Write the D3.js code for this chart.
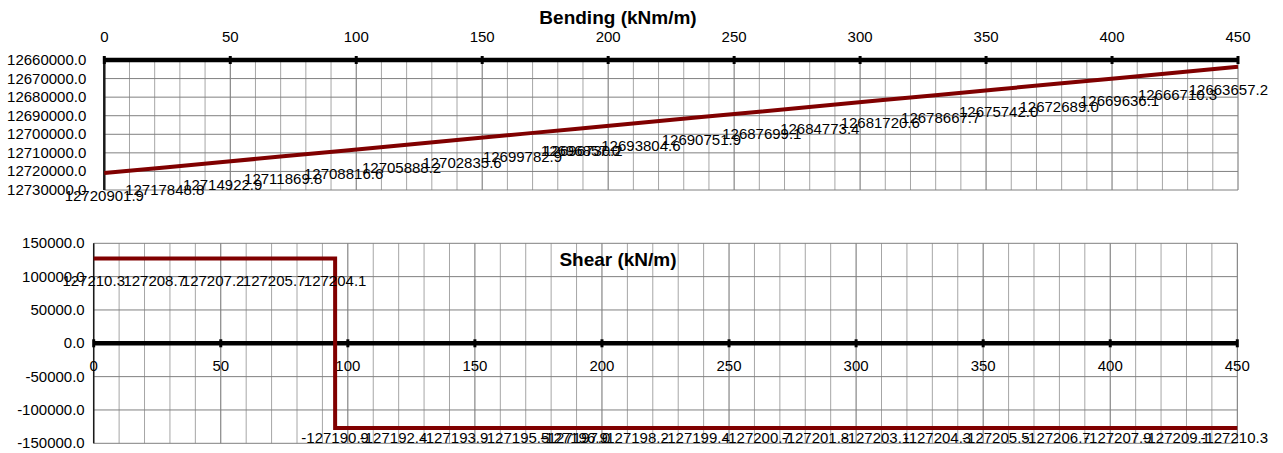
<!DOCTYPE html>
<html>
<head>
<meta charset="utf-8">
<script src="https://cdn.jsdelivr.net/npm/d3@7"></script>
<style>
  body { margin: 0; background: #fff; }
  text { font-family: "Liberation Sans", Arial, sans-serif; fill: #000; }
</style>
</head>
<body>
<div id="chart"></div>
<script>
// Positions along the beam (x) and results
const bendX = [0, 24, 47, 71, 95, 118, 142, 166, 189, 190, 213, 237, 261, 284, 308, 332, 355, 379, 403, 426, 450];
const bendValues = [12720901.9, 12717848.8, 12714922.9, 12711869.8, 12708816.6, 12705888.2, 12702835.6,
  12699782.9, 12696857.0, 12696730.2, 12693804.6, 12690751.9, 12687699.1, 12684773.4, 12681720.6, 12678667.7,
  12675742.0, 12672689.0, 12669636.1, 12666710.3, 12663657.2];
const shearX = [0, 24, 47, 71, 95, 95, 118, 142, 166, 189, 190, 213, 237, 261, 284, 308, 332, 355, 379, 403, 426, 450];
const shearValues = [127210.3, 127208.7, 127207.2, 127205.7, 127204.1, -127190.9, -127192.4, -127193.9,
  -127195.5, -127196.9, -127197.0, -127198.2, -127199.4, -127200.7, -127201.8, -127203.1, -127204.3,
  -127205.5, -127206.7, -127207.9, -127209.1, -127210.3];
const xTicks = [0, 50, 100, 150, 200, 250, 300, 350, 400, 450];
const bendTicks = [12660000, 12670000, 12680000, 12690000, 12700000, 12710000, 12720000, 12730000];
const shearTicks = [150000, 100000, 50000, 0, -50000, -100000, -150000];

const width = 1283, height = 453;
const fontSize = '15px';
// plain hyphen for negatives, like the spreadsheet
const fmt = d => d3.format('.1f')(d).replace('\u2212', '-');
const svg = d3.select('#chart').append('svg')
  .attr('width', width)
  .attr('height', height);

// one panel: x along the top/zero line, dark red result line, labels under the points
function drawPanel(opts) {
  const { x, y, xs, values, yTicks, title, titleY, axisValue, tickLabelDy, labelMaxY } = opts;
  const g = svg.append('g');
  const x0 = x.range()[0], x1 = x.range()[1];
  const yTop = Math.min(...y.range()), yBot = Math.max(...y.range());

  // minor vertical grid every 10
  g.append('g').selectAll('line')
    .data(d3.range(10, 450, 10).filter(d => d % 50 !== 0))
    .join('line')
    .attr('x1', d => x(d)).attr('x2', d => x(d))
    .attr('y1', yTop).attr('y2', yBot)
    .attr('stroke', '#a6a6a6').attr('stroke-width', 1);
  // major vertical grid
  g.append('g').selectAll('line')
    .data(xTicks)
    .join('line')
    .attr('x1', d => x(d)).attr('x2', d => x(d))
    .attr('y1', yTop).attr('y2', yBot)
    .attr('stroke', '#6e6e6e').attr('stroke-width', 1);
  // horizontal grid
  g.append('g').selectAll('line')
    .data(yTicks)
    .join('line')
    .attr('x1', x0).attr('x2', x1)
    .attr('y1', d => y(d)).attr('y2', d => y(d))
    .attr('stroke', '#808080').attr('stroke-width', 1);

  // y axis line + labels
  g.append('line')
    .attr('x1', x0).attr('x2', x0).attr('y1', yTop).attr('y2', yBot)
    .attr('stroke', '#1a1a1a').attr('stroke-width', opts.yAxisWidth);
  g.append('g').selectAll('text')
    .data(yTicks)
    .join('text')
    .attr('x', x0 - opts.yLabelGap)
    .attr('y', d => y(d) + 5)
    .attr('text-anchor', 'end')
    .attr('font-size', fontSize)
    .text(d => fmt(d));

  // x axis (thick black line) with tick marks
  const ay = y(axisValue);
  g.append('line')
    .attr('x1', x0).attr('x2', x1).attr('y1', ay).attr('y2', ay)
    .attr('stroke', '#000').attr('stroke-width', 4.5);
  g.append('g').selectAll('line')
    .data(xTicks)
    .join('line')
    .attr('x1', d => x(d)).attr('x2', d => x(d))
    .attr('y1', ay - 4).attr('y2', ay + 4)
    .attr('stroke', '#000').attr('stroke-width', 3);
  g.append('g').selectAll('text')
    .data(xTicks)
    .join('text')
    .attr('x', d => x(d))
    .attr('y', ay + tickLabelDy)
    .attr('text-anchor', 'middle')
    .attr('font-size', fontSize)
    .text(d => d);

  // result line
  const pts = xs.map((d, i) => [d, values[i]]);
  g.append('path')
    .datum(pts)
    .attr('d', d3.line().x(d => x(d[0])).y(d => y(d[1])))
    .attr('fill', 'none')
    .attr('stroke', '#800000')
    .attr('stroke-width', 4);

  // data labels
  g.append('g').selectAll('text')
    .data(pts)
    .join('text')
    .attr('x', d => x(d[0]))
    .attr('y', d => Math.min(y(d[1]) + 28, labelMaxY))
    .attr('text-anchor', 'middle')
    .attr('font-size', fontSize)
    .text(d => fmt(d[1]))
    .each(function() {
      // keep labels inside the chart area, as the spreadsheet does
      const bb = this.getBBox();
      if (bb.x + bb.width > 1268) {
        d3.select(this).attr('x', +d3.select(this).attr('x') - (bb.x + bb.width - 1268));
      }
    });

  // title
  g.append('text')
    .attr('x', 618)
    .attr('y', titleY)
    .attr('text-anchor', 'middle')
    .attr('font-size', '19px')
    .attr('font-weight', 'bold')
    .text(title);
}

// Bending: y reversed, axis on top
const xBend = d3.scaleLinear().domain([0, 450]).range([104.3, 1238]);
const yBend = d3.scaleLinear().domain([12660000, 12730000]).range([60, 190]);
drawPanel({
  x: xBend, y: yBend, xs: bendX, values: bendValues, yTicks: bendTicks,
  title: 'Bending (kNm/m)', titleY: 24, axisValue: 12660000,
  tickLabelDy: -18, labelMaxY: 453, yAxisWidth: 2.5, yLabelGap: 18
});

// Shear
const xShear = d3.scaleLinear().domain([0, 450]).range([93.7, 1237.3]);
const yShear = d3.scaleLinear().domain([-150000, 150000]).range([443.3, 243.3]);
drawPanel({
  x: xShear, y: yShear, xs: shearX, values: shearValues, yTicks: shearTicks,
  title: 'Shear (kN/m)', titleY: 266, axisValue: 0,
  tickLabelDy: 28, labelMaxY: 443, yAxisWidth: 1.5, yLabelGap: 9
});
</script>
</body>
</html>
